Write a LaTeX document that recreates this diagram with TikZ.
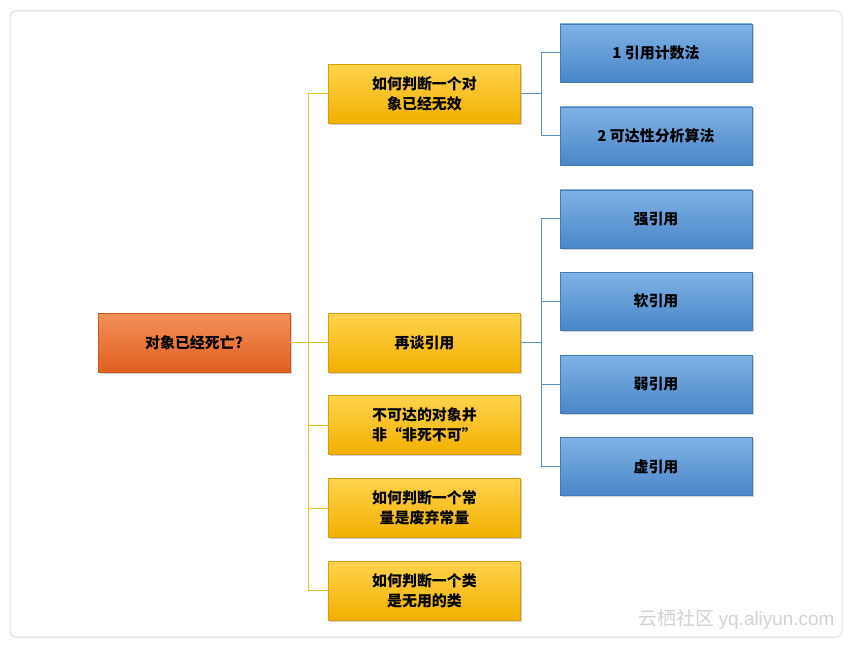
\documentclass[tikz,border=0pt]{standalone}
\usepackage{fontspec}
\setmainfont{Liberation Sans}
\newfontfamily\cjk{Noto Sans CJK SC}
\usetikzlibrary{shadows}
\definecolor{ytop}{HTML}{FFD34D}\definecolor{ybot}{HTML}{F2B000}
\definecolor{otop}{HTML}{F3915A}\definecolor{obot}{HTML}{E0601F}
\definecolor{btop}{HTML}{7FB3E6}\definecolor{bbot}{HTML}{4A86C8}
\definecolor{yline}{HTML}{F0C020}\definecolor{bline}{HTML}{5B8FC8}
\tikzset{
 base/.style={minimum width=192bp,minimum height=59bp,inner sep=2bp,align=center,font=\cjk\bfseries\fontsize{15}{20}\selectfont,drop shadow={shadow xshift=1.5bp,shadow yshift=-1.5bp,opacity=0.35}},
 ybox/.style={base,top color=ytop,bottom color=ybot,draw=ybot!90!black,line width=0.4bp},
 obox/.style={base,top color=otop,bottom color=obot,draw=obot!90!black,line width=0.4bp},
 bbox/.style={base,minimum height=58bp,top color=btop,bottom color=bbot,draw=bbot!90!black,line width=0.4bp},
 yl/.style={yline,line width=1bp},
 bl/.style={bline,line width=1bp}
}
\begin{document}
\begin{tikzpicture}[x=1bp,y=-1bp]
\useasboundingbox (0,0) rectangle (850,647);
\draw[gray!25,line width=1bp,rounded corners=6bp] (10,11) rectangle (842,637);
\node[obox] (r) at (194,342.5) {对象已经死亡?};
\node[ybox] (y1) at (424.5,94) {如何判断一个对\\象已经无效};
\node[ybox] (y2) at (424.5,342.5) {再谈引用};
\node[ybox] (y3) at (424.5,425) {不可达的对象并\\非“非死不可”};
\node[ybox] (y4) at (424.5,508) {如何判断一个常\\量是废弃常量};
\node[ybox] (y5) at (424.5,590.5) {如何判断一个类\\是无用的类};
\node[bbox] (b1) at (656,53) {1 引用计数法};
\node[bbox] (b2) at (656,136) {2 可达性分析算法};
\node[bbox] (b3) at (656,219) {强引用};
\node[bbox] (b4) at (656,301) {软引用};
\node[bbox] (b5) at (656,384) {弱引用};
\node[bbox] (b6) at (656,466.5) {虚引用};
\coordinate (yv) at (308,0);
\coordinate (bv) at (541,0);
\begin{scope}[on background layer/.style={}]
\draw[yl] (r.east) -- (r.east -| yv);
\draw[yl] (y1.west -| yv) -- (y5.west -| yv);
\foreach \n in {y1,y2,y3,y4,y5} \draw[yl] (\n.west -| yv) -- (\n.west);
\draw[bl] (y1.east) -- (y1.east -| bv);
\draw[bl] (b1.west -| bv) -- (b2.west -| bv);
\foreach \n in {b1,b2} \draw[bl] (\n.west -| bv) -- (\n.west);
\draw[bl] (y2.east) -- (y2.east -| bv);
\draw[bl] (b3.west -| bv) -- (b6.west -| bv);
\foreach \n in {b3,b4,b5,b6} \draw[bl] (\n.west -| bv) -- (\n.west);
\end{scope}
\node[anchor=east,text=gray!35,font=\cjk\fontsize{19}{22}\selectfont] (wm) at (838,619) {云栖社区 {\fontspec{Liberation Sans}yq.aliyun.com}};
\end{tikzpicture}
\end{document}
